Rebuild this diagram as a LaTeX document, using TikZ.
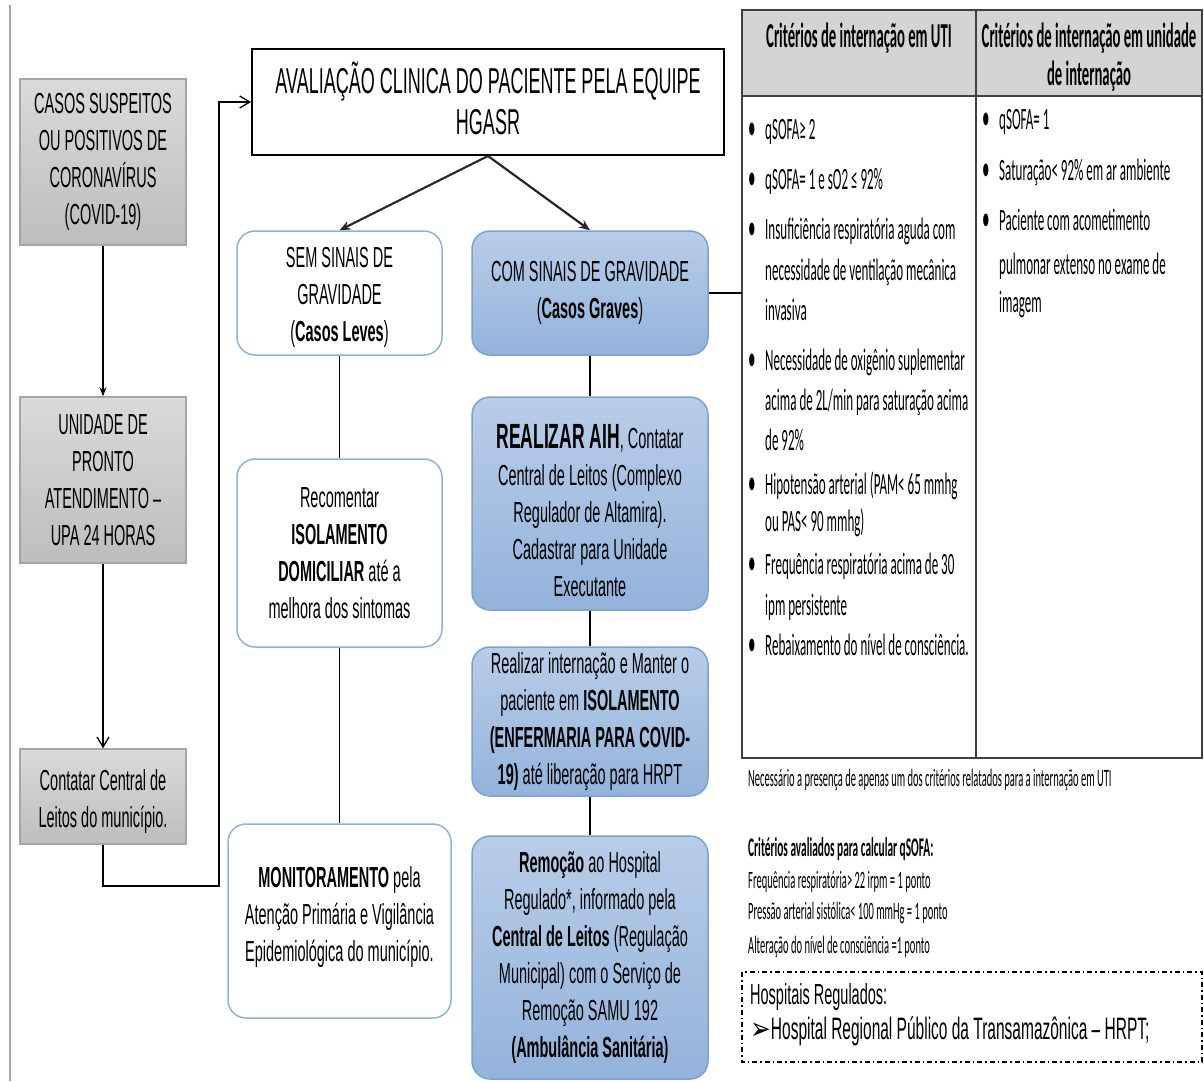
\documentclass[tikz,border=0pt]{standalone}
\usepackage{fontspec}
\setmainfont{Liberation Sans}[FakeStretch=0.5]
\newfontfamily\tabfont{Carlito}[FakeStretch=0.42]
\newfontfamily\symfont{DejaVu Sans}[FakeStretch=0.8]
\usetikzlibrary{arrows.meta}

\definecolor{grayTop}{HTML}{DADADA}
\definecolor{grayBot}{HTML}{BDBDBD}
\definecolor{grayEdge}{HTML}{A5A5A5}
\definecolor{blueTop}{HTML}{B8CDE8}
\definecolor{blueBot}{HTML}{93B3DB}
\definecolor{blueEdge}{HTML}{7DA2D0}
\definecolor{lightEdge}{HTML}{8EB2DE}
\definecolor{headGray}{HTML}{D4D4D4}
\definecolor{marginGray}{HTML}{A8A8A8}

\tikzset{
  boxfont/.style={font=\fontsize{29}{37}\selectfont},
  graybox/.style={draw=grayEdge, line width=1.5pt, top color=grayTop, bottom color=grayBot,
    align=center, inner sep=0pt, boxfont},
  bluebox/.style={draw=blueEdge, line width=1.5pt, rounded corners=18pt, top color=blueTop,
    bottom color=blueBot, align=center, inner sep=0pt, boxfont},
  whitebox/.style={draw=lightEdge, line width=1.5pt, rounded corners=18pt, fill=white,
    align=center, inner sep=0pt, boxfont},
  boxtext/.style={align=center, inner sep=0pt, boxfont},
  conn/.style={line width=1.3pt, black},
  tabtxt/.style={anchor=mid west, inner sep=0pt, font=\tabfont\fontsize{31}{40}\selectfont},
  headtxt/.style={align=center, inner sep=0pt, font=\tabfont\bfseries\fontsize{35}{38}\selectfont},
  notetxt/.style={anchor=mid west, inner sep=0pt, font=\tabfont\fontsize{25}{28}\selectfont},
}

\begin{document}
\begin{tikzpicture}[x=1pt, y=-1pt]
\useasboundingbox (0,0) rectangle (1204,1081);

% page margin rule
\draw[marginGray, line width=2pt] (10,5) -- (10,1081);

% left column: entry points
\node[graybox, minimum width=166pt, minimum height=166pt] (b1) at (103,162)
  {CASOS SUSPEITOS\\OU POSITIVOS DE\\CORONAVÍRUS\\(COVID-19)};
\node[graybox, minimum width=166pt, minimum height=166pt] (b2) at (103,480)
  {UNIDADE DE\\PRONTO\\ATENDIMENTO –\\UPA 24 HORAS};
\node[graybox, minimum width=166pt, minimum height=95pt] (b3) at (103,796.5) {};
\node[boxtext] (b3t) at (103,801) {Contatar Central de\\Leitos do município.};

% clinical evaluation
\node[draw=black, line width=2pt, fill=white, minimum width=472pt, minimum height=106pt,
  inner sep=0pt] (av) at (488,102) {};
\node[align=center, inner sep=0pt, font=\fontsize{36}{41}\selectfont] (avt) at (488,98)
  {AVALIAÇÃO CLINICA DO PACIENTE PELA EQUIPE\\HGASR};

% mild cases branch
\node[whitebox, minimum width=205pt, minimum height=124pt] (sem) at (339.5,293) {};
\node[boxtext] (semt) at (339.5,297) {SEM SINAIS DE\\GRAVIDADE\\(\textbf{Casos Leves})};
\node[whitebox, minimum width=205pt, minimum height=188pt] (rec) at (339.5,553)
  {Recomentar\\\textbf{ISOLAMENTO}\\\textbf{DOMICILIAR} até a\\melhora dos sintomas};
\node[whitebox, minimum width=223pt, minimum height=194pt] (mon) at (339.5,921) {};
\node[boxtext] (mont) at (339.5,917)
  {\textbf{MONITORAMENTO} pela\\Atenção Primária e Vigilância\\Epidemiológica do município.};

% severe cases branch
\node[bluebox, minimum width=236pt, minimum height=124pt] (com) at (590,293)
  {COM SINAIS DE GRAVIDADE\\(\textbf{Casos Graves})};
\node[bluebox, minimum width=236pt, minimum height=213pt] (aih) at (590,503.5) {};
\node[boxtext] (aiht) at (590,511)
  {{\fontsize{35}{41}\selectfont\textbf{REALIZAR AIH}}, Contatar\\Central de Leitos (Complexo\\Regulador de Altamira).\\Cadastrar para Unidade\\Executante};
\node[bluebox, minimum width=236pt, minimum height=149pt] (int) at (590,721.5)
  {Realizar internação e Manter o\\paciente em \textbf{ISOLAMENTO}\\\textbf{(ENFERMARIA PARA COVID-}\\\textbf{19)} até liberação para HRPT};
\node[bluebox, minimum width=236pt, minimum height=243pt] (rem) at (590,957.5)
  {\textbf{Remoção} ao Hospital\\Regulado*, informado pela\\\textbf{Central de Leitos} (Regulação\\Municipal) com o Serviço de\\Remoção SAMU 192\\\textbf{(Ambulância Sanitária)}};

% criteria table
\node[minimum width=460pt, minimum height=748pt, inner sep=0pt] (tab) at (972,384) {};
\fill[headGray] (tab.north west) rectangle (1202,96);
\draw[black!75, line width=1.5pt] (tab.north west) rectangle (tab.south east);
\draw[black!75, line width=1.5pt] (742,96) -- (1202,96);
\draw[black!75, line width=1.2pt] (976,10) -- (976,758);

\node[headtxt] (h1) at (859,38) {Critérios de internação em UTI};
\node[headtxt] (h2) at (1089,57) {Critérios de internação em unidade\\de internação};

% ICU criteria
\foreach \yy [count=\i] in {137,187,237,368,492,572,653}
  \node[tabtxt, font=\tabfont\fontsize{36}{40}\selectfont] (lb\i) at (748,\yy) {•};
\node[tabtxt] (l1) at (765,137) {qSOFA≥ 2};
\node[tabtxt] (l2) at (765,187) {qSOFA= 1 e sO2 ≤ 92\%};
\node[tabtxt] (l3) at (765,237) {Insuficiência respiratória aguda com};
\node[tabtxt] (l4) at (765,278) {necessidade de ventilação mecânica};
\node[tabtxt] (l5) at (765,318) {invasiva};
\node[tabtxt] (l6) at (765,368) {Necessidade de oxigênio suplementar};
\node[tabtxt] (l7) at (765,408) {acima de 2L/min para saturação acima};
\node[tabtxt] (l8) at (765,448) {de 92\%};
\node[tabtxt] (l9) at (765,492) {Hipotensão arterial (PAM< 65 mmhg};
\node[tabtxt] (l10) at (765,529) {ou PAS< 90 mmhg)};
\node[tabtxt] (l11) at (765,572) {Frequência respiratória acima de 30};
\node[tabtxt] (l12) at (765,613) {ipm persistente};
\node[tabtxt] (l13) at (765,653) {Rebaixamento do nível de consciência.};

% ward criteria
\foreach \yy [count=\i] in {127,178,228}
  \node[tabtxt, font=\tabfont\fontsize{36}{40}\selectfont] (rb\i) at (982,\yy) {•};
\node[tabtxt] (r1) at (999,127) {qSOFA= 1};
\node[tabtxt] (r2) at (999,178) {Saturação< 92\% em ar ambiente};
\node[tabtxt] (r3) at (999,228) {Paciente com acometimento};
\node[tabtxt] (r4) at (999,272) {pulmonar extenso no exame de};
\node[tabtxt] (r5) at (999,310) {imagem};

% notes
\node[notetxt] (n1) at (748,784) {Necessário a presença de apenas um dos critérios relatados para a internação em UTI};
\node[notetxt, font=\tabfont\bfseries\fontsize{27}{28}\selectfont] (n2) at (748,854) {Critérios avaliados para calcular qSOFA:};
\node[notetxt] (n3) at (748,886) {Frequência respiratória> 22 irpm = 1 ponto};
\node[notetxt] (n4) at (748,917) {Pressão arterial sistólica< 100 mmHg = 1 ponto};
\node[notetxt] (n5) at (748,951) {Alteração do nível de consciência =1 ponto};

% regulated hospitals
\draw[line width=1.2pt, dash pattern=on 5pt off 3pt on 1.5pt off 3pt] (742,972) rectangle (1202,1062);
\node[anchor=mid west, inner sep=0pt, font=\fontsize{29}{30}\selectfont] (hr1) at (750,1002) {Hospitais Regulados:};
\node[anchor=mid west, inner sep=0pt, font=\fontsize{31}{32}\selectfont] (hr2) at (750,1037)
  {{\symfont\bfseries ➢}Hospital Regional Público da Transamazônica – HRPT;};

% connectors
\coordinate (k1) at (103,886);
\coordinate (k2) at (219,886);
\draw[conn, -{Stealth[length=9pt,width=7pt]}] (b1.south) -- (b2.north);
\draw[conn, -{Straight Barb[length=10pt,width=12pt]}] (b2.south) -- (b3.north);
\draw[conn, -{Straight Barb[length=10pt,width=12pt]}] (b3.south) -- (k1) -- (k2) |- (av.west);
\draw[line width=2.2pt, black!85, -{Stealth[length=11pt,width=9pt]}] (av.south) -- (sem.north);
\draw[line width=2.2pt, black!85, -{Stealth[length=11pt,width=9pt]}] (av.south) -- (com.north);
\draw[conn] (com.east) -- (tab.west |- com.east);
\draw[conn] (sem.south) -- (rec.north);
\draw[conn] (rec.south) -- (mon.north);
\draw[conn] (com.south) -- (aih.north);
\draw[conn] (aih.south) -- (int.north);
\draw[conn] (int.south) -- (rem.north);
\end{tikzpicture}
\end{document}
